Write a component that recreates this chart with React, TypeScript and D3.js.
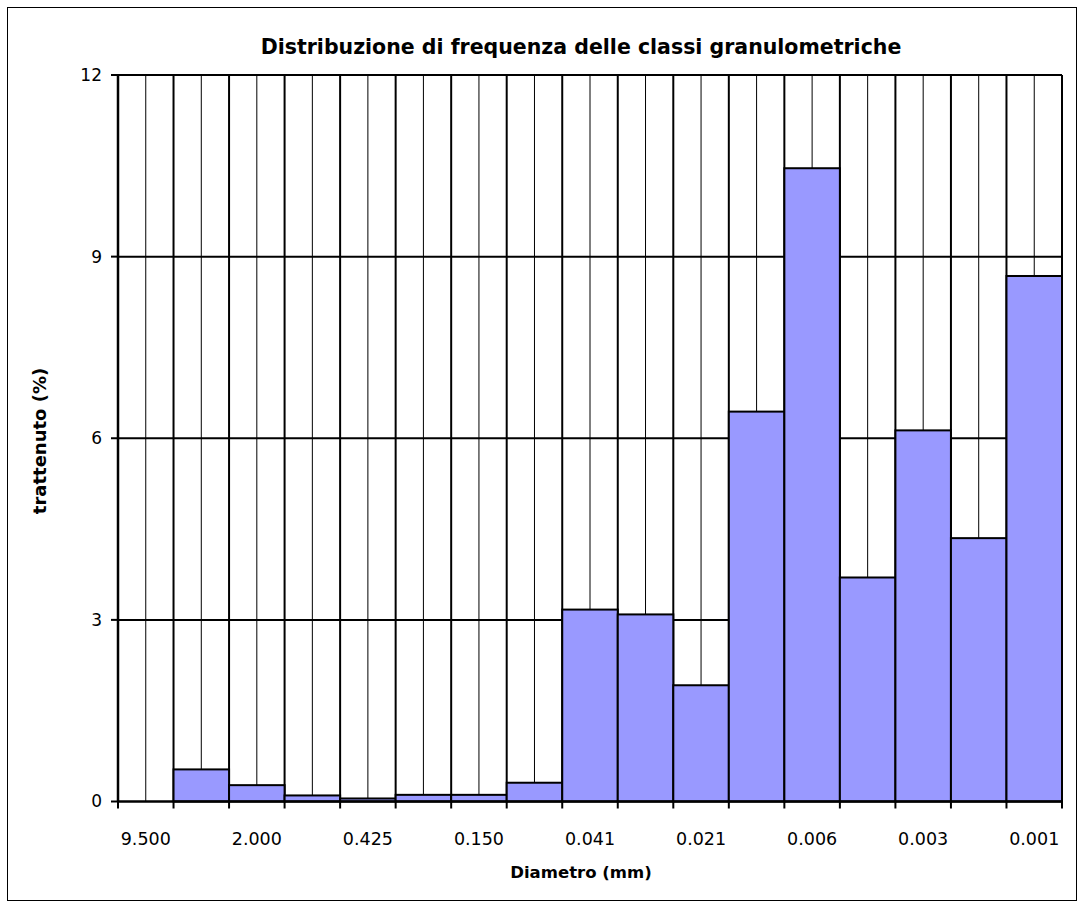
import React from "react";
import * as d3 from "d3";

const title = "Distribuzione di frequenza delle classi granulometriche";
const xTitle = "Diametro (mm)";
const yTitle = "trattenuto (%)";
// 17 size classes; only every other one carries a visible label
const classIds = d3.range(17).map((i) => `c${i}`);
const shownLabels = ["9.500", "2.000", "0.425", "0.150", "0.041", "0.021", "0.006", "0.003", "0.001"];
const retained = [0, 0.53, 0.27, 0.1, 0.05, 0.11, 0.11, 0.31, 3.17, 3.09, 1.92, 6.44, 10.46, 3.7, 6.13, 4.35, 8.68];
const yTicks = [0, 3, 6, 9, 12];

const W = 1077;
const H = 901;
const left = 118;
const right = 1062;
const top = 75;
const bottom = 801.5;
const FONT = "'Comic Sans MS', 'DejaVu Sans', sans-serif";
const BAR = "#9999FF";

export default function App() {
  const x = d3.scaleBand<string>().domain(classIds).range([left, right]).padding(0);
  const y = d3.scaleLinear().domain([0, 12]).range([bottom, top]);
  const bw = x.bandwidth();
  const boundaries = d3.range(classIds.length + 1).map((i) => left + i * bw);

  return (
    <svg width={W} height={H} style={{ position: "absolute", left: 0, top: 0, background: "#fff" }}>
      <rect x={7.5} y={7.5} width={W - 8} height={H - 8} fill="#fff" stroke="#000" strokeWidth={1} />
      {/* minor vertical gridlines at class centers */}
      {classIds.map((c) => (
        <line key={"mg" + c} x1={x(c)! + bw / 2} x2={x(c)! + bw / 2} y1={top} y2={bottom} stroke="#000" strokeWidth={1} />
      ))}
      {/* major vertical gridlines */}
      {boundaries.map((b, i) => (
        <line key={"vg" + i} x1={b} x2={b} y1={top} y2={bottom} stroke="#000" strokeWidth={2} />
      ))}
      {/* horizontal gridlines */}
      {yTicks.filter((t) => t > 0).map((t) => (
        <line key={"hg" + t} x1={left} x2={right} y1={y(t)} y2={y(t)} stroke="#000" strokeWidth={2} />
      ))}
      {/* bars */}
      {classIds.map((c, i) =>
        retained[i] > 0 ? (
          <rect key={"b" + c} x={x(c)!} y={y(retained[i])} width={bw} height={bottom - y(retained[i])} fill={BAR} stroke="#000" strokeWidth={2} />
        ) : null
      )}
      {/* axes */}
      <line x1={left} x2={left} y1={top} y2={bottom} stroke="#000" strokeWidth={2.5} />
      <line x1={left - 1} x2={right} y1={bottom} y2={bottom} stroke="#000" strokeWidth={2.5} />
      {yTicks.map((t) => (
        <g key={"yt" + t}>
          <line x1={left - 7} x2={left} y1={y(t)} y2={y(t)} stroke="#000" strokeWidth={2} />
          <text x={left - 16} y={y(t)} dy="0.35em" textAnchor="end" fontFamily={FONT} fontSize={17} fill="#000">
            {t}
          </text>
        </g>
      ))}
      {boundaries.map((b, i) => (
        <line key={"xt" + i} x1={b} x2={b} y1={bottom} y2={bottom + 7} stroke="#000" strokeWidth={2} />
      ))}
      {shownLabels.map((l, i) => {
        const c = classIds[i * 2];
        return (
          <text key={"xl" + i} x={x(c)! + bw / 2} y={839} dy="0.35em" textAnchor="middle" fontFamily={FONT} fontSize={17.5} fill="#000">
            {l}
          </text>
        );
      })}
      <text x={581} y={872} dy="0.35em" textAnchor="middle" fontFamily={FONT} fontSize={16.5} fontWeight="bold" fill="#000">
        {xTitle}
      </text>
      <text
        transform={`translate(40,441) rotate(-90)`}
        dy="0.35em"
        textAnchor="middle"
        fontFamily={FONT}
        fontSize={18}
        fontWeight="bold"
        fill="#000"
      >
        {yTitle}
      </text>
      <text x={581} y={47} dy="0.35em" textAnchor="middle" fontFamily={FONT} fontSize={20.5} fontWeight="bold" fill="#000">
        {title}
      </text>
    </svg>
  );
}
